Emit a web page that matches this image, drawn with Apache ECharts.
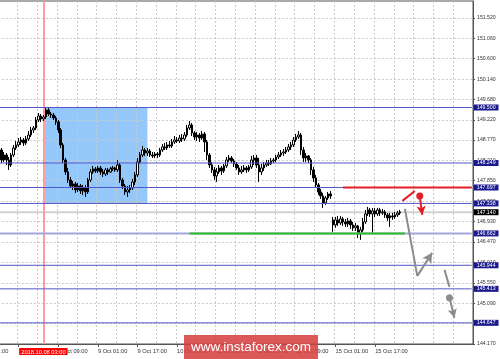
<!DOCTYPE html>
<html><head><meta charset="utf-8">
<script src="https://cdn.jsdelivr.net/npm/echarts@6/dist/echarts.min.js"></script>
<style>html,body{margin:0;padding:0;background:#fff}#c{width:500px;height:359px}</style>
</head><body><div id="c"></div>
<script>
// ---- data ----
const tradingDays = ['5 Oct','8 Oct','9 Oct','10 Oct','11 Oct','12 Oct','15 Oct','16 Oct','17 Oct'];
const firstHour = '5 Oct 01:00';
const categoryCount = 200;
const labelTimes = ['5 Oct 01:00','5 Oct 17:00','8 Oct 09:00','9 Oct 01:00','9 Oct 17:00','10 Oct 09:00','11 Oct 01:00','11 Oct 17:00','12 Oct 09:00','15 Oct 01:00','15 Oct 17:00'];
const priceTicks = [144.170,144.630,145.090,145.550,146.010,146.470,146.930,147.390,147.850,148.310,148.770,149.220,149.680,150.140,150.600,151.060,151.520];
const priceMin = 144.170, priceMax = 151.900;
const firstCandleTime = '5 Oct 09:00';
// [open, close, low, high]
const ohlc = [
[148.205,148.543,148.093,148.656],[148.543,148.318,148.250,148.588],[148.318,148.430,148.273,148.498],[148.430,148.318,148.205,148.475],
[148.318,148.205,148.093,148.385],[148.205,148.430,148.160,148.475],[148.430,148.588,148.385,148.656],[148.588,148.656,148.543,148.746],
[148.656,148.723,148.611,148.813],[148.723,148.768,148.656,148.836],[148.768,148.701,148.633,148.813],[148.701,148.791,148.656,148.858],
[148.791,148.881,148.746,148.971],[148.881,148.993,148.836,149.061],[148.993,149.038,148.926,149.083],[149.038,149.219,148.993,149.286],
[149.219,149.309,149.174,149.376],[149.309,149.241,149.174,149.354],[149.241,149.286,149.196,149.331],[149.286,149.444,149.241,149.511],
[149.444,149.354,149.309,149.489],[149.354,149.331,149.264,149.399],[149.331,149.264,149.219,149.376],[149.264,149.174,149.106,149.309],
[149.174,148.993,148.926,149.219],[148.993,148.656,148.588,149.038],[148.656,148.318,148.250,148.701],[148.318,148.048,147.980,148.363],
[148.048,147.867,147.800,148.138],[147.867,147.732,147.687,147.935],[147.732,147.777,147.642,147.845],[147.777,147.642,147.575,147.822],
[147.642,147.732,147.597,147.800],[147.732,147.620,147.552,147.777],[147.620,147.687,147.530,147.755],[147.687,147.597,147.485,147.755],
[147.597,147.867,147.552,147.912],[147.867,148.048,147.822,148.115],[148.048,148.115,148.003,148.183],[148.115,148.070,148.025,148.160],
[148.070,148.138,148.025,148.183],[148.138,148.048,147.980,148.183],[148.048,148.003,147.935,148.115],[148.003,148.093,147.958,148.138],
[148.093,148.048,147.980,148.138],[148.048,148.115,148.025,148.160],[148.115,148.138,148.070,148.183],[148.138,148.093,148.048,148.160],
[148.093,148.205,148.048,148.318],[148.205,147.867,147.800,148.250],[147.867,147.732,147.665,147.912],[147.732,147.597,147.530,147.777],
[147.597,147.642,147.485,147.732],[147.642,147.687,147.575,147.755],[147.687,147.822,147.642,147.890],[147.822,147.980,147.755,148.048],
[147.980,148.273,147.935,148.363],[148.273,148.430,148.228,148.498],[148.430,148.543,148.385,148.633],[148.543,148.475,148.408,148.588],
[148.475,148.520,148.408,148.588],[148.520,148.430,148.385,148.565],[148.430,148.408,148.363,148.498],[148.408,148.453,148.363,148.498],
[148.453,148.430,148.363,148.498],[148.430,148.543,148.385,148.588],[148.543,148.611,148.498,148.678],[148.611,148.588,148.543,148.701],
[148.588,148.656,148.543,148.723],[148.656,148.633,148.588,148.746],[148.633,148.723,148.588,148.791],[148.723,148.768,148.678,148.858],
[148.768,148.746,148.701,148.836],[148.746,148.813,148.701,148.881],[148.813,148.791,148.723,148.903],[148.791,148.881,148.746,148.948],
[148.881,149.038,148.836,149.106],[149.038,149.106,148.993,149.196],[149.106,148.926,148.858,149.151],[148.926,148.836,148.768,148.971],
[148.836,148.881,148.746,148.948],[148.881,148.813,148.723,148.926],[148.813,148.903,148.768,148.971],[148.903,148.723,148.498,148.948],
[148.723,148.430,148.318,148.768],[148.430,148.205,148.138,148.475],[148.205,148.093,148.025,148.273],[148.093,147.958,147.867,148.160],
[147.958,148.048,147.822,148.138],[148.048,148.138,148.003,148.205],[148.138,148.070,147.980,148.183],[148.070,148.183,148.025,148.228],
[148.183,148.318,148.138,148.385],[148.318,148.363,148.273,148.430],[148.363,148.295,148.250,148.408],[148.295,148.228,148.160,148.340],
[148.228,148.138,148.093,148.273],[148.138,148.048,147.980,148.205],[148.048,148.093,148.003,148.183],[148.093,148.138,148.048,148.205],
[148.138,148.093,148.025,148.183],[148.093,148.160,148.048,148.205],[148.160,148.318,148.115,148.408],[148.318,148.363,148.205,148.430],
[148.363,148.205,148.138,148.430],[148.205,148.048,147.822,148.363],[148.048,148.138,147.980,148.228],[148.138,148.205,148.070,148.273],
[148.205,148.250,148.160,148.318],[148.250,148.228,148.183,148.318],[148.228,148.295,148.205,148.363],[148.295,148.318,148.250,148.363],
[148.318,148.385,148.273,148.430],[148.385,148.430,148.340,148.498],[148.430,148.475,148.385,148.543],[148.475,148.498,148.408,148.565],
[148.498,148.543,148.453,148.611],[148.543,148.611,148.498,148.678],[148.611,148.656,148.543,148.723],[148.656,148.768,148.611,148.836],
[148.768,148.836,148.723,148.903],[148.836,148.881,148.791,148.971],[148.881,148.543,148.430,148.926],[148.543,148.363,148.273,148.611],
[148.363,148.408,148.273,148.475],[148.408,148.318,148.250,148.430],[148.318,148.093,147.980,148.363],[148.093,147.912,147.822,148.160],
[147.912,147.755,147.687,147.980],[147.755,147.597,147.530,147.800],[147.597,147.507,147.440,147.665],[147.507,147.350,147.237,147.575],
[147.350,147.462,147.305,147.507],[147.462,147.552,147.417,147.597],[147.552,147.507,147.440,147.620],[146.967,146.854,146.697,147.034],
[146.854,146.967,146.787,147.034],[146.967,146.899,146.832,147.057],[146.899,146.989,146.854,147.057],[146.989,146.922,146.832,147.034],
[146.922,146.877,146.809,146.989],[146.877,146.944,146.809,147.012],[146.944,146.854,146.764,146.989],[146.854,146.787,146.719,146.922],
[146.787,146.832,146.719,146.899],[146.832,146.652,146.561,146.854],[146.652,146.742,146.516,146.809],[146.742,146.922,146.697,147.012],
[146.922,147.102,146.877,147.192],[147.102,147.192,147.057,147.259],[147.192,147.102,147.034,147.237],[147.102,147.169,146.674,147.237],
[147.169,147.102,147.034,147.237],[147.102,147.192,147.057,147.237],[147.192,147.124,147.057,147.237],[147.124,147.147,147.079,147.214],
[147.147,147.079,147.012,147.192],[147.079,147.012,146.944,147.124],[147.012,147.057,146.809,147.124],[147.057,147.034,146.967,147.124],
[147.034,147.079,146.989,147.147],[147.079,147.124,147.034,147.169],[147.124,147.147,147.079,147.192]
];
const levels = [149.500, 148.249, 147.697, 147.338, 145.944, 145.413, 144.647];
const supportLevel = 146.662;
const bidPrice = 147.140;
const cursorTime = '8 Oct 03:00';
const cursorLabel = '2018.10.08 03:00';
const boxRange = [['8 Oct 03:00', 149.500], ['9 Oct 21:00', 147.338]];
const resistanceSegment = [['15 Oct 04:00', 147.697], ['17 Oct 08:00', 147.697]];
const supportSegment = [['10 Oct 14:00', 146.662], ['16 Oct 05:00', 146.662]];
const redPath = [['16 Oct 04:00', 147.395], ['16 Oct 09:00', 147.620]];
const redArrow = [['16 Oct 11:00', 147.507], ['16 Oct 12:00', 147.079]];
const grayPath = [['16 Oct 05:00', 147.214], ['16 Oct 10:00', 145.706], ['16 Oct 16:00', 146.224]];
const grayPath2 = [['16 Oct 21:00', 145.841], ['16 Oct 23:00', 145.458]];
const grayArrow = [['16 Oct 23:00', 145.210], ['17 Oct 01:00', 144.760]];
const watermark = 'www.instaforex.com';

// ---- build ----
const allHours = [];
tradingDays.forEach(d => { for (let h = 0; h < 24; h++) allHours.push(d + ' ' + String(h).padStart(2, '0') + ':00'); });
const s0 = allHours.indexOf(firstHour);
const categories = allHours.slice(s0, s0 + categoryCount);
const catFirst = categories[0], catLast = categories[categories.length - 1];
const startIdx = categories.indexOf(firstCandleTime);
const candleData = categories.map((c, i) => {
  const r = ohlc[i - startIdx];
  return r ? r : ['-', '-', '-', '-'];
}).slice(0, startIdx + ohlc.length);

const FONT = 'Liberation Sans';
const RED = '#e21f26', GRAY = '#8c8c8c', NAVY = '#1a1a8e', LINE = '#5656c8';
const pairs = (pts) => pts.slice(1).map((p, i) => [{ coord: pts[i] }, { coord: p }]);

// full-width horizontal line as a plain line series with a boxed end label
const levelSeries = (v, color, width, z, boxBg) => ({
  type: 'line', silent: true, z: z, symbol: 'none', showSymbol: false, color: color,
  data: [[catFirst, v], [catLast, v]],
  lineStyle: { color: color, width: width, type: 'solid' },
  endLabel: boxBg ? {
    show: true, distance: 2, formatter: v.toFixed(3), backgroundColor: boxBg, color: '#fff',
    fontSize: 5.2, fontFamily: FONT, padding: [1, 3, 0, 3], lineHeight: 5
  } : { show: false }
});

const redArrowPair = [{ coord: redArrow[0], symbol: 'circle', symbolSize: 7 }, { coord: redArrow[1], symbol: 'arrow', symbolSize: [7, 9] }];
const grayPairs = pairs(grayPath);
grayPairs[grayPairs.length - 1][1].symbol = 'arrow';
grayPairs[grayPairs.length - 1][1].symbolSize = [8, 10];
const grayArrowPair = [{ coord: grayArrow[0], symbol: 'circle', symbolSize: 7 }, { coord: grayArrow[1], symbol: 'arrow', symbolSize: [7, 9] }];

const series = [
  { type: 'line', data: [], silent: true,
    markArea: { z: 0.1, silent: true, label: { show: false }, itemStyle: { color: '#94c8fa' },
      data: [[{ coord: boxRange[0] }, { coord: boxRange[1] }]] } },
  { type: 'line', data: [], silent: true, color: '#ff9c9c',
    markLine: { z: 1, silent: true, symbol: 'none',
      lineStyle: { color: '#ff9c9c', width: 2, type: 'solid' },
      label: { show: true, position: 'start', distance: 4, formatter: cursorLabel, backgroundColor: '#ff0000', color: '#fff',
        fontSize: 5.7, fontFamily: FONT, padding: [1, 2, 0, 2], lineHeight: 6 },
      data: [{ xAxis: cursorTime }] } },
  levelSeries(bidPrice, '#d2d2d2', 2, 0.8, '#000'),
  { type: 'candlestick', z: 2, data: candleData, barWidth: 2,
    itemStyle: { color: '#ffffff', color0: '#000000', borderColor: '#000000', borderColor0: '#000000', borderWidth: 1 } },
  levelSeries(supportLevel, '#a6a6dc', 2, 3, NAVY)
];
levels.forEach(v => series.push(levelSeries(v, LINE, 1, 3, NAVY)));
series.push(
  { type: 'line', silent: true, z: 3.5, symbol: 'none', color: RED, data: resistanceSegment, lineStyle: { color: RED, width: 2 } },
  { type: 'line', silent: true, z: 3.5, symbol: 'none', color: '#2dbb2d', data: supportSegment, lineStyle: { color: '#2dbb2d', width: 2 } },
  { type: 'line', data: [], silent: true, color: RED,
    markLine: { z: 4, silent: true, symbol: 'none', label: { show: false },
      lineStyle: { color: RED, width: 2, type: 'solid' },
      data: pairs(redPath).concat([redArrowPair]) } },
  { type: 'line', data: [], silent: true, color: GRAY,
    markLine: { z: 4, silent: true, symbol: 'none', label: { show: false },
      lineStyle: { color: GRAY, width: 2, type: 'solid' },
      data: grayPairs.concat(pairs(grayPath2), [grayArrowPair]) } }
);

const chart = echarts.init(document.getElementById('c'), null, { renderer: 'canvas' });
chart.setOption({
  animation: false,
  backgroundColor: '#ffffff',
  grid: { left: -22.2, right: 27, top: 1, bottom: 15, show: true, borderColor: '#555', borderWidth: 1, containLabel: false, outerBoundsMode: 'none' },
  xAxis: {
    type: 'category', data: categories, z: 0.5,
    axisLine: { show: true, lineStyle: { color: '#555' } },
    axisTick: { show: true, alignWithLabel: true, length: 3, lineStyle: { color: '#555' }, interval: (i, v) => labelTimes.includes(v) },
    axisLabel: { interval: (i, v) => labelTimes.includes(v), align: 'left', margin: 4, fontSize: 5.7, fontFamily: FONT, color: '#333' },
    splitLine: { show: true, interval: 7, lineStyle: { color: '#c9c9c9', type: [2, 2], width: 1 } }
  },
  yAxis: {
    type: 'value', position: 'right', min: priceMin, max: priceMax, z: 0.5,
    axisLine: { show: true, lineStyle: { color: '#555' } },
    axisTick: { show: true, length: 2, customValues: priceTicks, lineStyle: { color: '#555' } },
    axisLabel: { customValues: priceTicks, margin: 4, fontSize: 5.2, fontFamily: FONT, color: '#333', formatter: v => v.toFixed(3) },
    splitLine: { show: true, lineStyle: { color: '#c9c9c9', type: [2, 2], width: 1 } }
  },
  series: series,
  graphic: [
    { type: 'rect', z: 10, shape: { x: 184, y: 335, width: 134, height: 24 }, style: { fill: 'rgba(214,62,62,0.86)' } },
    { type: 'text', z: 11, x: 251, y: 347, style: { text: watermark, fill: '#ffffff', font: '13.5px "Liberation Sans"', textAlign: 'center', textVerticalAlign: 'middle' } }
  ]
});
</script></body></html>
